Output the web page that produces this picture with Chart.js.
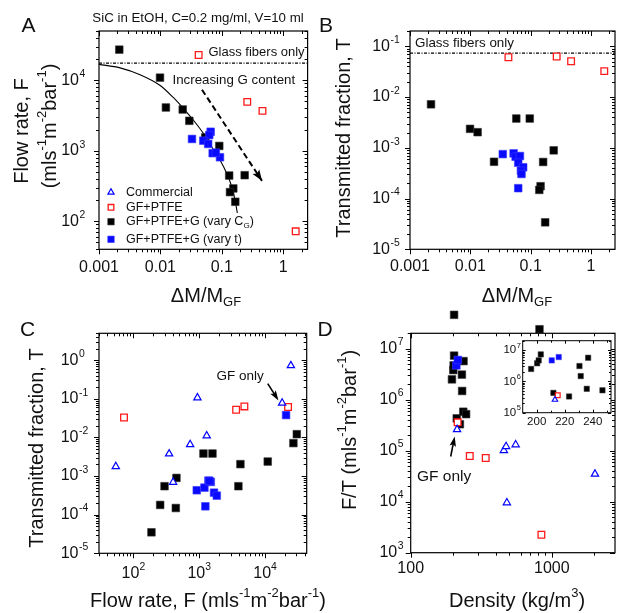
<!DOCTYPE html>
<html><head><meta charset="utf-8">
<script src="https://cdn.jsdelivr.net/npm/chart.js@4.4.0/dist/chart.umd.min.js"></script>
<style>
html,body{margin:0;padding:0;background:#fff;}
#wrap{position:relative;width:621px;height:613px;overflow:hidden;background:#fff;}
canvas{position:absolute;left:0;top:0;}
</style></head><body>
<div id="wrap">
<canvas id="cA" width="621" height="613"></canvas>
<canvas id="cB" width="621" height="613"></canvas>
<canvas id="cC" width="621" height="613"></canvas>
<canvas id="cD" width="621" height="613"></canvas>
<canvas id="cI" width="621" height="613"></canvas>
</div>
<script>
// ---------------- DATA ----------------
// Panel A: flow rate F vs ΔM/M_GF
const A_ptfe_x = [0.042, 0.26, 0.46, 1.6];
const A_ptfe_F = [22800, 4940, 3680, 72];
const A_cg_x = [0.00214, 0.00986, 0.0123, 0.0231, 0.0296, 0.0538, 0.091, 0.132, 0.236, 0.154, 0.136, 0.166];
const A_cg_F = [27200, 10900, 4110, 3850, 2660, 1550, 1170, 445, 450, 292, 259, 189];
const A_t_x = [0.0327, 0.0659, 0.0625, 0.050, 0.060, 0.0711, 0.0935, 0.080];
const A_t_F = [1470, 1860, 1670, 1390, 1250, 923, 809, 940];
const A_fit_x = [0.001, 0.0022, 0.00466, 0.0098, 0.0162, 0.0236, 0.0344, 0.050, 0.0684, 0.0935, 0.120, 0.145, 0.164, 0.179];
const A_fit_F = [16800, 15000, 12000, 8500, 5700, 4000, 2720, 1770, 1140, 741, 481, 311, 202, 131];
const A_glass_x = [0.001, 2.5];
const A_glass_F = [17500, 17500];
const A_arrow_x = [0.0476, 0.452];
const A_arrow_F = [7350, 374];

// Panel B: transmitted fraction T vs ΔM/M_GF
const B_ptfe_x = [0.0428, 0.270, 0.468, 1.66];
const B_ptfe_T = [0.0608, 0.0628, 0.0508, 0.0324];
const B_cg_x = [0.00223, 0.00989, 0.0132, 0.0247, 0.0578, 0.0966, 0.241, 0.161, 0.146, 0.139, 0.174];
const B_cg_T = [0.00719, 0.00236, 0.00203, 0.00053, 0.00377, 0.00377, 0.00089, 0.000525, 0.000175, 0.000148, 0.000034];
const B_t_x = [0.0345, 0.0522, 0.0563, 0.0664, 0.0622, 0.0751, 0.0689, 0.0705, 0.0622];
const B_t_T = [0.00075, 0.000776, 0.000667, 0.000688, 0.000508, 0.000413, 0.000354, 0.000305, 0.00016];
const B_glass_x = [0.001, 2.5];
const B_glass_T = [0.073, 0.073];

// Panel C: T vs flow rate F
const C_com_F = [54, 349, 401, 728, 940, 1300, 18200, 24700];
const C_com_T = [0.00177, 0.00378, 0.000695, 0.00658, 0.107, 0.0111, 0.0782, 0.728];
const C_ptfe_F = [72, 3640, 4860, 22400];
const C_ptfe_T = [0.033, 0.0524, 0.0638, 0.0615];
const C_cg_F = [188, 255, 297, 441, 451, 1160, 1590, 4230, 3940, 11000, 27000, 30400];
const C_cg_T = [0.000035, 0.000179, 0.000547, 0.000149, 0.000897, 0.00384, 0.00384, 0.00204, 0.000547, 0.00238, 0.00715, 0.0122];
const C_t_F = [20900, 918, 1200, 1380, 1500, 1680, 1850, 1240, 1430];
const C_t_T = [0.0381, 0.00043, 0.000503, 0.000764, 0.000706, 0.000372, 0.000312, 0.000165, 0.00075];
const C_gfArrow_F = [11000, 16000];
const C_gfArrow_T = [0.248, 0.0914];

// Panel D: F/T vs density
const D_com_rho = [213, 457, 474, 554, 480, 2020];
const D_com_FT = [2.6e5, 1.01e5, 1.21e5, 1.31e5, 9550, 3.49e4];
const D_ptfe_rho = [215, 262, 340, 843];
const D_ptfe_FT = [3.6e5, 7.87e4, 7.2e4, 2250];
const D_cg_rho = [196, 200.3, 201.4, 202.9, 211.9, 223.1, 230.5, 231.4, 236.7, 235.7, 246.9, 203, 817];
const D_cg_FT = [2.5e6, 3.8e6, 4.7e6, 7.3e6, 4.3e5, 3.3e5, 3.1e6, 1.48e6, 5.7e6, 5.8e5, 5.2e5, 4.6e7, 2.4e7];
const D_t_rho = [210.7, 215.7];
const D_t_FT = [4.7e6, 6.0e6];
const D_gfArrow_rho = [192, 205];
const D_gfArrow_FT = [7.7e4, 1.9e5];

// Tick labels
const A_xTicks = [0.001, 0.01, 0.1, 1];
const A_xTickText = ['0.001', '0.01', '0.1', '1'];
const A_yExps = [2, 3, 4];
const B_yExps = [-5, -4, -3, -2, -1];
const C_xExps = [2, 3, 4];
const C_yExps = [-5, -4, -3, -2, -1, 0];
const D_xTicks = [100, 1000];
const D_yExps = [3, 4, 5, 6, 7];
const I_xTicks = [200, 220, 240];
const I_xMinor = [210, 230, 250];
const I_yExps = [5, 6, 7];

// ---------------- HELPERS ----------------
const FONT = '"Liberation Sans", Arial, Helvetica, sans-serif';
const font = s => s + 'px ' + FONT;
const TXT = '#111';

function measureRich(ctx, parts, size) {
  let w = 0;
  for (const [t, m] of parts) { ctx.font = font(m ? size * 0.65 : size); w += ctx.measureText(t).width; }
  return w;
}
function drawRich(ctx, parts, x, y, size, align, rot) {
  ctx.save();
  ctx.translate(x, y);
  if (rot) ctx.rotate(rot);
  const w = measureRich(ctx, parts, size);
  let cx = align === 'center' ? -w / 2 : align === 'right' ? -w : 0;
  ctx.fillStyle = TXT; ctx.textBaseline = 'middle'; ctx.textAlign = 'left';
  for (const [t, m] of parts) {
    ctx.font = font(m ? size * 0.65 : size);
    const dy = m === 'sup' ? -size * 0.38 : m === 'sub' ? size * 0.3 : 0;
    ctx.fillText(t, cx, dy);
    cx += ctx.measureText(t).width;
  }
  ctx.restore();
}
const UNIT = [['(mls', ''], ['-1', 'sup'], ['m', ''], ['-2', 'sup'], ['bar', ''], ['-1', 'sup'], [')', '']];
const DMGF = [['\u0394M/M', ''], ['GF', 'sub']];

function logTicks(min, max) {
  const out = [];
  for (let e = Math.floor(Math.log10(min)); e <= Math.ceil(Math.log10(max)); e++) {
    for (let m = 1; m <= 9; m++) {
      const v = m * Math.pow(10, e);
      if (v >= min * 0.9999 && v <= max * 1.0001) out.push([v, m === 1]);
    }
  }
  return out;
}
function seg(ctx, x1, y1, x2, y2) { ctx.beginPath(); ctx.moveTo(x1, y1); ctx.lineTo(x2, y2); ctx.stroke(); }
function arrowHead(ctx, x1, y1, x2, y2, len, wid) {
  const a = Math.atan2(y2 - y1, x2 - x1);
  ctx.save(); ctx.translate(x2, y2); ctx.rotate(a);
  ctx.fillStyle = '#000';
  ctx.beginPath(); ctx.moveTo(0, 0); ctx.lineTo(-len, -wid / 2); ctx.lineTo(-len * 0.8, 0); ctx.lineTo(-len, wid / 2); ctx.closePath(); ctx.fill();
  ctx.restore();
}

// frame + ticks + tick labels
function axesPlugin(cfg) {
  return {
    id: 'axes_' + cfg.name,
    beforeDraw(chart) {
      if (cfg.whiteBg) {
        const a = chart.chartArea, ctx = chart.ctx;
        ctx.save(); ctx.fillStyle = '#fff'; ctx.fillRect(a.left, a.top, a.right - a.left, a.bottom - a.top); ctx.restore();
      }
    },
    beforeDatasetsDraw(chart) {
      const ctx = chart.ctx, a = chart.chartArea, xs = chart.scales.x, ys = chart.scales.y;
      ctx.save();
      ctx.strokeStyle = '#000'; ctx.lineWidth = 1;
      const o = cfg.out ? 1 : -1;
      for (const [v, maj] of cfg.xt) {
        const p = Math.round(xs.getPixelForValue(v)) + 0.5, L = maj ? cfg.maj : cfg.min;
        seg(ctx, p, a.bottom, p, a.bottom + o * L);
        seg(ctx, p, a.top, p, a.top + L);
      }
      for (const [v, maj] of cfg.yt) {
        const p = Math.round(ys.getPixelForValue(v)) + 0.5, L = maj ? cfg.maj : cfg.min;
        seg(ctx, a.left, p, a.left - o * L, p);
        seg(ctx, a.right, p, a.right - L, p);
      }
      ctx.lineWidth = cfg.frameW || 1.2;
      ctx.strokeRect(a.left, a.top, a.right - a.left, a.bottom - a.top);
      ctx.restore();
    },
    afterDatasetsDraw(chart) {
      // points lying outside the plotting frame (drawn unclipped, as in the original)
      const a = chart.chartArea, full = {left: 0, top: 0, right: 621, bottom: 613};
      chart.data.datasets.forEach((ds, di) => {
        if (ds.showLine) return;
        const meta = chart.getDatasetMeta(di);
        meta.data.forEach(el => {
          const r = el.options.radius + 1;
          if (el.x < a.left - r || el.x > a.right + r || el.y < a.top - r || el.y > a.bottom + r) {
            el.draw(chart.ctx, full);
          }
        });
      });
    },
    afterDraw(chart) {
      const ctx = chart.ctx, a = chart.chartArea, xs = chart.scales.x, ys = chart.scales.y;
      const fs = cfg.fs;
      cfg.xLabels.forEach(([v, parts]) => drawRich(ctx, parts, xs.getPixelForValue(v), cfg.xLabelY, fs, 'center'));
      cfg.yExps.forEach(e => {
        const p = ys.getPixelForValue(Math.pow(10, e));
        const x = a.left - cfg.gap;
        drawRich(ctx, [['10', '']], x, p, fs, 'right');
        drawRich(ctx, [[String(e), 'sup']], x + 0.5, p, fs, 'left');
      });
      if (cfg.draw) cfg.draw(chart, ctx, xs, ys, a);
    }
  };
}

const ST = {
  tri:  {ps: 'triangle', r: 4.2, bg: '#ffffff', bc: '#0000ff', bw: 1.2},
  ptfe: {ps: 'rect', r: 4.7, bg: '#ffffff', bc: '#ff1a1a', bw: 1.3},
  cg:   {ps: 'rect', r: 5.4, bg: '#000000', bc: '#333333', bw: 0.6},
  t:    {ps: 'rect', r: 5.4, bg: '#0a0aff', bc: '#3a3aff', bw: 0.6}
};
function pts(xs, ys, st, scale) {
  const k = scale || 1;
  return {
    data: xs.map((x, i) => ({x, y: ys[i]})), showLine: false,
    pointStyle: st.ps, pointRadius: st.r * k, pointHoverRadius: st.r * k,
    pointBackgroundColor: st.bg, pointBorderColor: st.bc, pointBorderWidth: st.bw * Math.min(1, k + 0.2), clip: false
  };
}
function ln(xs, ys, o) {
  return Object.assign({
    data: xs.map((x, i) => ({x, y: ys[i]})), showLine: true, pointRadius: 0, pointHoverRadius: 0,
    borderColor: '#000', borderWidth: 1, fill: false
  }, o);
}
function makeChart(id, area, xsc, ysc, datasets, plugin) {
  return new Chart(document.getElementById(id), {
    type: 'scatter',
    data: {datasets},
    options: {
      responsive: false, animation: false, devicePixelRatio: 1, events: [],
      layout: {padding: {left: area.l, top: area.t, right: 621 - area.r, bottom: 613 - area.b}},
      plugins: {legend: {display: false}, tooltip: {enabled: false}},
      scales: {x: Object.assign({display: false}, xsc), y: Object.assign({display: false}, ysc)}
    },
    plugins: [plugin]
  });
}
const expLabel = e => [['10', ''], [String(e), 'sup']];

// ---------------- PANEL A ----------------
makeChart('cA', {l: 99, t: 31, r: 307.6, b: 249.3},
  {type: 'logarithmic', min: 0.001, max: 2.5},
  {type: 'logarithmic', min: 40, max: 50000},
  [
    pts(A_ptfe_x, A_ptfe_F, ST.ptfe),
    pts(A_t_x, A_t_F, ST.t),
    pts(A_cg_x, A_cg_F, ST.cg),
    ln(A_fit_x, A_fit_F, {cubicInterpolationMode: 'monotone', borderWidth: 1.1}),
    ln(A_glass_x, A_glass_F, {borderDash: [3, 1.5, 1, 1.5], borderWidth: 1.2}),
    ln(A_arrow_x, A_arrow_F, {borderDash: [6, 3.5], borderWidth: 2})
  ],
  axesPlugin({
    name: 'A', out: true, maj: 5, min: 3, fs: 16, gap: 20, xLabelY: 267.5,
    xt: logTicks(0.001, 2.5), yt: logTicks(40, 50000),
    xLabels: A_xTicks.map((v, i) => [v, [[A_xTickText[i], '']]]), yExps: A_yExps,
    draw(chart, ctx, xs, ys) {
      drawRich(ctx, [['SiC in EtOH, C=0.2 mg/ml, V=10 ml', '']], 198, 18, 13.3, 'center');
      drawRich(ctx, [['A', '']], 28.5, 26, 21, 'center');
      drawRich(ctx, [['Flow rate, F', '']], 22, 131, 20, 'center', -Math.PI / 2);
      drawRich(ctx, UNIT, 50, 126, 20, 'center', -Math.PI / 2);
      drawRich(ctx, DMGF, 206, 296, 20, 'center');
      drawRich(ctx, [['Glass fibers only', '']], 208.5, 52.5, 13, 'left');
      drawRich(ctx, [['Increasing G content', '']], 172.5, 80, 13.3, 'left');
      const x1 = xs.getPixelForValue(A_arrow_x[0]), y1 = ys.getPixelForValue(A_arrow_F[0]);
      const x2 = xs.getPixelForValue(A_arrow_x[1]), y2 = ys.getPixelForValue(A_arrow_F[1]);
      arrowHead(ctx, x1, y1, x2, y2, 11, 8);
      const leg = [
        [ST.tri, [['Commercial', '']], 192.3],
        [ST.ptfe, [['GF+PTFE', '']], 207.3],
        [ST.cg, [['GF+PTFE+G (vary C', ''], ['G', 'sub'], [')', '']], 221.7],
        [ST.t, [['GF+PTFE+G (vary t)', '']], 239.3]
      ];
      leg.forEach(([st, parts, y]) => {
        ctx.save();
        ctx.fillStyle = st.bg; ctx.strokeStyle = st.bc; ctx.lineWidth = st.bw;
        Chart.helpers.drawPoint(ctx, {pointStyle: st.ps, radius: st.r * 0.85, rotation: 0, borderWidth: st.bw}, 111, y);
        ctx.restore();
        drawRich(ctx, parts, 126, y, 12.5, 'left');
      });
    }
  }));

// ---------------- PANEL B ----------------
makeChart('cB', {l: 410, t: 31, r: 618.6, b: 249.3},
  {type: 'logarithmic', min: 0.001, max: 2.5},
  {type: 'logarithmic', min: 1e-5, max: 0.2},
  [
    pts(B_ptfe_x, B_ptfe_T, ST.ptfe),
    pts(B_t_x, B_t_T, ST.t),
    pts(B_cg_x, B_cg_T, ST.cg),
    ln(B_glass_x, B_glass_T, {borderDash: [3, 1.5, 1, 1.5], borderWidth: 1.2})
  ],
  axesPlugin({
    name: 'B', out: true, maj: 5, min: 3, fs: 16, gap: 20, xLabelY: 267,
    xt: logTicks(0.001, 2.5), yt: logTicks(1e-5, 0.2),
    xLabels: A_xTicks.map((v, i) => [v, [[A_xTickText[i], '']]]), yExps: B_yExps,
    draw(chart, ctx) {
      drawRich(ctx, [['B', '']], 326, 26, 21, 'center');
      drawRich(ctx, [['Transmitted fraction, T', '']], 344, 138, 20, 'center', -Math.PI / 2);
      drawRich(ctx, DMGF, 517, 296, 20, 'center');
      drawRich(ctx, [['Glass fibers only', '']], 415, 43.5, 13.4, 'left');
    }
  }));

// ---------------- PANEL C ----------------
makeChart('cC', {l: 99, t: 333.3, r: 306.7, b: 553.3},
  {type: 'logarithmic', min: 30, max: 43000},
  {type: 'logarithmic', min: 1e-5, max: 5},
  [
    pts(C_com_F, C_com_T, ST.tri),
    pts(C_ptfe_F, C_ptfe_T, ST.ptfe),
    pts(C_t_F, C_t_T, ST.t),
    pts(C_cg_F, C_cg_T, ST.cg)
  ],
  axesPlugin({
    name: 'C', out: true, maj: 5, min: 3, fs: 16, gap: 20.5, xLabelY: 573.5,
    xt: logTicks(30, 43000), yt: logTicks(1e-5, 5),
    xLabels: C_xExps.map(e => [Math.pow(10, e), expLabel(e)]), yExps: C_yExps,
    draw(chart, ctx, xs, ys) {
      drawRich(ctx, [['C', '']], 27.5, 330, 21, 'center');
      drawRich(ctx, [['Transmitted fraction, T', '']], 37, 448, 20, 'center', -Math.PI / 2);
      drawRich(ctx, [['Flow rate, F ', '']].concat(UNIT), 208, 601.5, 20, 'center');
      drawRich(ctx, [['GF only', '']], 216.5, 376, 13.5, 'left');
      const x1 = xs.getPixelForValue(C_gfArrow_F[0]), y1 = ys.getPixelForValue(C_gfArrow_T[0]);
      const x2 = xs.getPixelForValue(C_gfArrow_F[1]), y2 = ys.getPixelForValue(C_gfArrow_T[1]);
      ctx.save(); ctx.strokeStyle = '#000'; ctx.lineWidth = 1.6; seg(ctx, x1, y1, x2 - (x2 - x1) * 0.3, y2 - (y2 - y1) * 0.3); ctx.restore();
      arrowHead(ctx, x1, y1, x2, y2, 10, 6.5);
    }
  }));

// ---------------- PANEL D ----------------
makeChart('cD', {l: 410.7, t: 333.3, r: 619.5, b: 552.7},
  {type: 'logarithmic', min: 100, max: 2800},
  {type: 'logarithmic', min: 1000, max: 2e7},
  [
    pts(D_com_rho, D_com_FT, ST.tri),
    pts(D_ptfe_rho, D_ptfe_FT, ST.ptfe),
    pts(D_t_rho, D_t_FT, ST.t),
    pts(D_cg_rho, D_cg_FT, ST.cg)
  ],
  axesPlugin({
    name: 'D', out: true, maj: 5, min: 3, fs: 16, gap: 13.5, xLabelY: 568.3,
    xt: logTicks(100, 2800), yt: logTicks(1000, 2e7),
    xLabels: D_xTicks.map(v => [v, [[String(v), '']]]), yExps: D_yExps,
    draw(chart, ctx, xs, ys) {
      drawRich(ctx, [['D', '']], 325, 330, 21, 'center');
      drawRich(ctx, [['F/T ', '']].concat(UNIT), 350, 430, 20, 'center', -Math.PI / 2);
      drawRich(ctx, [['Density (kg/m', ''], ['3', 'sup'], [')', '']], 517, 601.5, 20, 'center');
      drawRich(ctx, [['GF only', '']], 417, 477, 15.5, 'left');
      const x1 = xs.getPixelForValue(D_gfArrow_rho[0]), y1 = ys.getPixelForValue(D_gfArrow_FT[0]);
      const x2 = xs.getPixelForValue(D_gfArrow_rho[1]), y2 = ys.getPixelForValue(D_gfArrow_FT[1]);
      ctx.save(); ctx.strokeStyle = '#000'; ctx.lineWidth = 1.6; seg(ctx, x1, y1, x2 - (x2 - x1) * 0.3, y2 - (y2 - y1) * 0.3); ctx.restore();
      arrowHead(ctx, x1, y1, x2, y2, 10, 6.5);
    }
  }));

// ---------------- INSET (D) ----------------
const I_min = 190, I_max = 253, I_ymin = 1e5, I_ymax = 2e7;
const inR = (xs, ys) => {
  const ox = [], oy = [];
  xs.forEach((x, i) => { if (x >= I_min && x <= I_max && ys[i] >= I_ymin && ys[i] <= I_ymax) { ox.push(x); oy.push(ys[i]); } });
  return [ox, oy];
};
const iCom = inR(D_com_rho, D_com_FT), iPtfe = inR(D_ptfe_rho, D_ptfe_FT), iT = inR(D_t_rho, D_t_FT), iCg = inR(D_cg_rho, D_cg_FT);
makeChart('cI', {l: 522.7, t: 340.7, r: 611, b: 412.7},
  {type: 'linear', min: I_min, max: I_max},
  {type: 'logarithmic', min: I_ymin, max: I_ymax},
  [
    pts(iCom[0], iCom[1], ST.tri, 0.75),
    pts(iPtfe[0], iPtfe[1], ST.ptfe, 0.72),
    pts(iT[0], iT[1], ST.t, 0.7),
    pts(iCg[0], iCg[1], ST.cg, 0.7)
  ],
  axesPlugin({
    name: 'I', out: false, maj: 3, min: 2, fs: 11.5, gap: 6.5, xLabelY: 421.5, whiteBg: true, frameW: 1,
    xt: I_xTicks.map(v => [v, true]).concat(I_xMinor.map(v => [v, false])), yt: logTicks(I_ymin, I_ymax),
    xLabels: I_xTicks.map(v => [v, [[String(v), '']]]), yExps: I_yExps
  }));
</script>
</body></html>
